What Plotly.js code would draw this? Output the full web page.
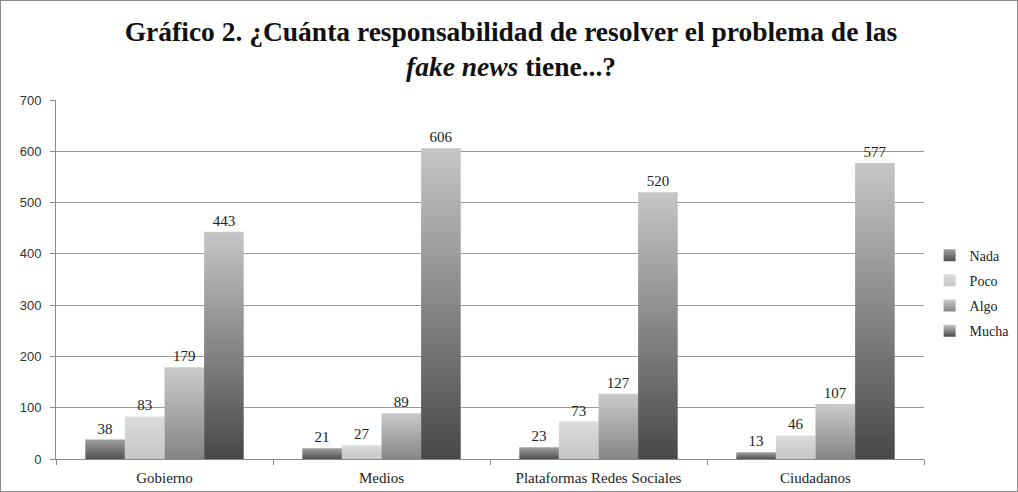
<!DOCTYPE html>
<html>
<head>
<meta charset="utf-8">
<script src="https://cdn.plot.ly/plotly-3.0.1.min.js"></script>
<style>
html,body{margin:0;padding:0;background:#fff;}
#chart{width:1016px;height:490px;border:1px solid #8a8a8a;}
</style>
</head>
<body>
<div id="chart"></div>
<script>
var categories = ["Gobierno", "Medios", "Plataformas Redes Sociales", "Ciudadanos"];
var seriesNames = ["Nada", "Poco", "Algo", "Mucha"];
var nada  = [38, 21, 23, 13];
var poco  = [83, 27, 73, 46];
var algo  = [179, 89, 127, 107];
var mucha = [443, 606, 520, 577];
var yTicks = [0, 100, 200, 300, 400, 500, 600, 700];

var seriesValues = [nada, poco, algo, mucha];
var baseColors = ["#6e6e6e", "#d2d2d2", "#a8a8a8", "#7a7a7a"];
var gradStops = [
  ["#a0a0a0", "#525252"],
  ["#dcdcdc", "#c6c6c6"],
  ["#cacaca", "#858585"],
  ["#c6c6c6", "#484848"]
];

var serif = "Liberation Serif";
var traces = seriesNames.map(function(name, i){
  return {
    type: "bar",
    name: name,
    x: categories,
    y: seriesValues[i],
    legendgroup: name,
    marker: {color: baseColors[i], line: {width: 0}},
    text: seriesValues[i].map(String),
    textposition: "outside",
    cliponaxis: false,
    textfont: {family: serif, size: 15, color: "#222"},
    hoverinfo: "skip"
  };
});

var layout = {
  width: 1016, height: 490,
  margin: {l: 55, r: 93, t: 99, b: 32, pad: 0, autoexpand: false},
  paper_bgcolor: "#fff", plot_bgcolor: "#fff",
  barmode: "group",
  bargap: 0.27,
  bargroupgap: 0,
  title: {
    text: "<b>Gráfico 2. ¿Cuánta responsabilidad de resolver el problema de las<br><i>fake news</i> tiene...?</b>",
    font: {family: serif, size: 27.5, color: "#111"},
    x: 0.502, xref: "container", xanchor: "center",
    yref: "container", y: 0.919, yanchor: "middle"
  },
  xaxis: {
    showline: true, linecolor: "#8a8a8a", linewidth: 1,
    ticks: "outside", tickson: "boundaries", ticklen: 5, tickcolor: "#8a8a8a",
    ticklabelstandoff: 5,
    tickfont: {family: serif, size: 15, color: "#222"},
    showgrid: false
  },
  yaxis: {
    range: [0, 700],
    tickvals: yTicks,
    ticktext: yTicks.map(String),
    showline: true, linecolor: "#8a8a8a", linewidth: 1,
    ticks: "outside", ticklen: 5, tickcolor: "#8a8a8a",
    ticklabelstandoff: 6,
    tickfont: {family: "Liberation Sans Narrow, Liberation Sans, Arial, sans-serif", size: 13, color: "#333"},
    showgrid: true, gridcolor: "#9a9a9a", gridwidth: 1,
    zeroline: false
  },
  legend: {
    xref: "container", yref: "container",
    x: 0.914, xanchor: "left", y: 0.404, yanchor: "middle",
    font: {family: serif, size: 14, color: "#222"},
    tracegroupgap: 4,
    itemwidth: 30,
    bgcolor: "rgba(0,0,0,0)"
  },
  showlegend: true
};

Plotly.newPlot("chart", traces, layout, {displayModeBar: false, staticPlot: true}).then(function(gd){
  var svg = gd.querySelector("svg.main-svg");
  var ns = "http://www.w3.org/2000/svg";
  var defs = svg.querySelector("defs");
  if (!defs) { defs = document.createElementNS(ns, "defs"); svg.insertBefore(defs, svg.firstChild); }
  gradStops.forEach(function(st, i){
    var lg = document.createElementNS(ns, "linearGradient");
    lg.setAttribute("id", "barGrad" + i);
    lg.setAttribute("x1", "0"); lg.setAttribute("y1", "0");
    lg.setAttribute("x2", "0"); lg.setAttribute("y2", "1");
    [[0, st[0]], [1, st[1]]].forEach(function(s){
      var stop = document.createElementNS(ns, "stop");
      stop.setAttribute("offset", s[0]);
      stop.setAttribute("stop-color", s[1]);
      lg.appendChild(stop);
    });
    defs.appendChild(lg);
  });
  var barTraces = gd.querySelectorAll(".barlayer .trace.bars");
  barTraces.forEach(function(t, i){
    t.querySelectorAll(".point path").forEach(function(p){ p.style.fill = "url(#barGrad" + i + ")"; });
  });
  var legItems = gd.querySelectorAll(".legend .traces");
  legItems.forEach(function(t, i){
    t.querySelectorAll(".legendpoints path").forEach(function(p){ p.style.fill = "url(#barGrad" + i + ")"; });
  });
});
</script>
</body>
</html>
